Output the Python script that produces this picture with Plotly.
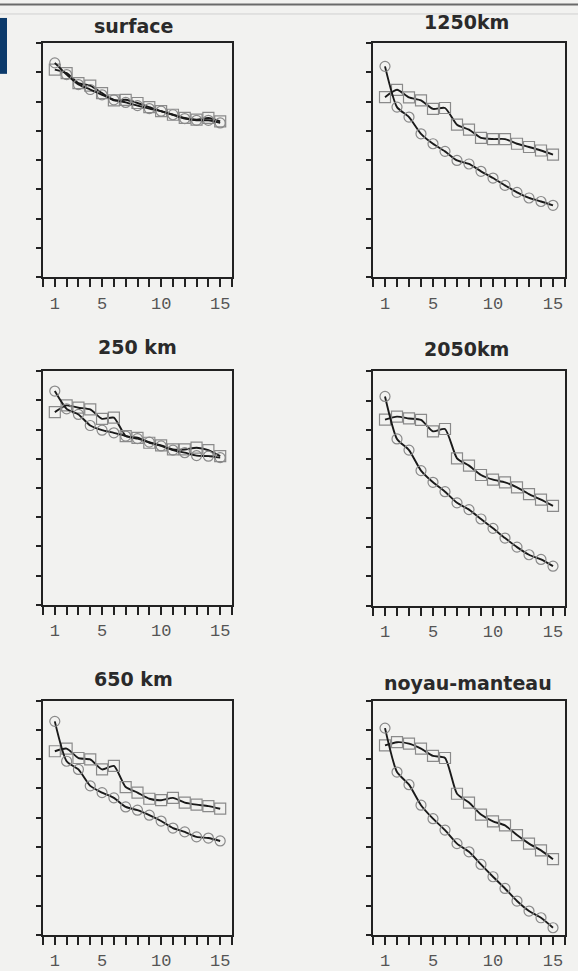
import plotly.graph_objects as go

W, H = 578, 971

x_vals = list(range(1, 16))

titles = ["surface", "1250km", "250 km", "2050km", "650 km", "noyau-manteau"]

circ_surface = [7.32, 6.92, 6.58, 6.41, 6.23, 6.06, 5.97, 5.86, 5.76, 5.67, 5.55, 5.42, 5.36, 5.36, 5.27]
sq_surface = [7.09, 6.97, 6.63, 6.54, 6.29, 6.04, 6.06, 5.95, 5.81, 5.67, 5.55, 5.44, 5.38, 5.44, 5.32]

circ_1250 = [7.20, 5.81, 5.47, 4.90, 4.56, 4.30, 3.99, 3.87, 3.62, 3.39, 3.14, 2.90, 2.71, 2.59, 2.46]
sq_1250 = [6.15, 6.40, 6.14, 6.04, 5.75, 5.78, 5.21, 5.04, 4.76, 4.72, 4.72, 4.56, 4.45, 4.33, 4.19]

circ_250 = [7.32, 6.71, 6.52, 6.14, 5.98, 5.89, 5.78, 5.69, 5.57, 5.44, 5.30, 5.21, 5.11, 5.09, 5.04]
sq_250 = [6.60, 6.83, 6.75, 6.69, 6.37, 6.41, 5.78, 5.72, 5.55, 5.46, 5.32, 5.32, 5.38, 5.30, 5.09]

circ_2050 = [7.14, 5.69, 5.31, 4.61, 4.21, 3.89, 3.51, 3.28, 2.96, 2.64, 2.31, 2.00, 1.74, 1.58, 1.35]
sq_2050 = [6.35, 6.45, 6.39, 6.34, 5.95, 6.03, 5.03, 4.78, 4.46, 4.30, 4.21, 4.04, 3.81, 3.62, 3.41]

circ_650 = [7.29, 5.93, 5.65, 5.09, 4.86, 4.68, 4.37, 4.26, 4.09, 3.89, 3.65, 3.52, 3.35, 3.31, 3.21]
sq_650 = [6.27, 6.36, 6.04, 5.99, 5.65, 5.77, 5.05, 4.86, 4.65, 4.60, 4.68, 4.52, 4.45, 4.40, 4.31]

circ_cmb = [7.06, 5.56, 5.13, 4.43, 3.97, 3.58, 3.12, 2.84, 2.41, 1.99, 1.59, 1.16, 0.82, 0.59, 0.25]
sq_cmb = [6.47, 6.58, 6.53, 6.36, 6.11, 6.04, 4.82, 4.52, 4.11, 3.88, 3.74, 3.41, 3.12, 2.89, 2.59]

circles = [circ_surface, circ_1250, circ_250, circ_2050, circ_650, circ_cmb]
squares = [sq_surface, sq_1250, sq_250, sq_2050, sq_650, sq_cmb]

x_tickvals = list(range(0, 17))
x_ticktext = ["", "1", "", "", "", "5", "", "", "", "", "10", "", "", "", "", "15", ""]
y_tickvals = list(range(0, 9))

# panel boxes in pixels: (left, right, top, bottom)
boxes = [
    (43, 232, 43, 278),
    (373, 565, 43, 278),
    (43, 232, 372, 606),
    (373, 565, 372, 607),
    (43, 232, 702, 937),
    (373, 565, 702, 937),
]
title_pos = [(133, 26), (466, 22), (137, 348), (466, 350), (133, 680), (468, 684)]

BG = "#f2f2f0"
fig = go.Figure()
layout = dict(
    width=W, height=H, margin=dict(l=0, r=0, t=0, b=0),
    paper_bgcolor=BG, plot_bgcolor=BG, showlegend=False,
)
annotations = []
for i in range(6):
    l, r, t, b = boxes[i]
    xa = "xaxis" if i == 0 else f"xaxis{i+1}"
    ya = "yaxis" if i == 0 else f"yaxis{i+1}"
    xref = "x" if i == 0 else f"x{i+1}"
    yref = "y" if i == 0 else f"y{i+1}"
    layout[xa] = dict(
        domain=[l / W, r / W], range=[0, 16], anchor=yref,
        tickvals=x_tickvals, ticktext=x_ticktext, ticks="outside", ticklen=8,
        tickwidth=2, tickcolor="#222", showgrid=False, zeroline=False,
        showline=True, linecolor="#222", linewidth=2, mirror=True,
        tickfont=dict(family="Liberation Mono", size=17, color="#555"),
        ticklabelstandoff=1, fixedrange=True,
    )
    layout[ya] = dict(
        domain=[1 - b / H, 1 - t / H], range=[0, 8], anchor=xref,
        tickvals=y_tickvals, showticklabels=False, ticks="outside", ticklen=5,
        tickwidth=2, tickcolor="#222", showgrid=False, zeroline=False,
        showline=True, linecolor="#222", linewidth=2, mirror=True, fixedrange=True,
    )
    for ys, sym, sz in ((squares[i], "square-open", 11), (circles[i], "circle-open", 10)):
        fig.add_trace(go.Scatter(
            x=x_vals, y=ys, mode="lines+markers", xaxis=xref, yaxis=yref,
            line=dict(color="#1a1a1a", width=1.9, shape="spline", smoothing=0.6),
            marker=dict(symbol=sym, size=sz, color="#8a8a8a", line=dict(width=1.2)),
        ))
    tx, ty = title_pos[i]
    annotations.append(dict(
        x=tx / W, y=1 - ty / H, xref="paper", yref="paper", text=titles[i],
        showarrow=False, xanchor="center", yanchor="middle",
        font=dict(family="DejaVu Sans", size=19, color="#2a2a2a", weight="bold"),
    ))

layout["annotations"] = annotations
layout["shapes"] = [
    dict(type="line", xref="paper", yref="paper", x0=0, x1=1, y0=1 - 4.5 / H, y1=1 - 4.5 / H,
         line=dict(color="#6a6a6a", width=2)),
    dict(type="line", xref="paper", yref="paper", x0=0, x1=1, y0=1 - 14 / H, y1=1 - 14 / H,
         line=dict(color="#d0d0d0", width=1)),
    dict(type="rect", xref="paper", yref="paper", x0=0, x1=7 / W, y0=1 - 74 / H, y1=1 - 18 / H,
         fillcolor="#0c3a6b", line=dict(width=0)),
]
fig.update_layout(**layout)
fig.write_html("out.html")
